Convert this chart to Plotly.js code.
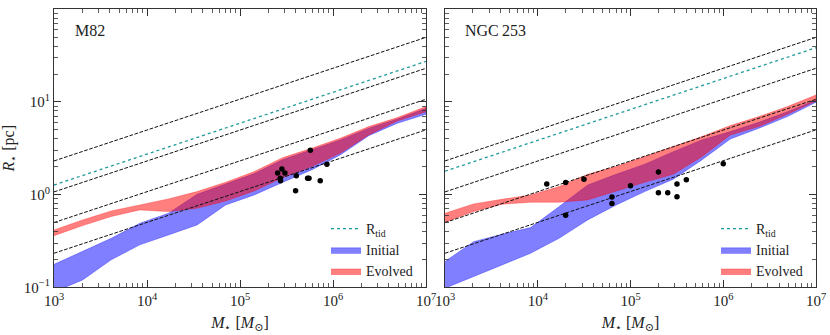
<!DOCTYPE html>
<html>
<head>
<meta charset="utf-8">
<script src="https://cdn.plot.ly/plotly-3.0.1.min.js"></script>
<style>html,body{margin:0;padding:0;background:#fff;}#chart{width:830px;height:335px;}</style>
</head>
<body>
<div id="chart"></div>
<script>
// ---- data ----
const massGrid = [1000, 2031, 4125, 8377, 17013, 34551, 70170, 142510, 289427, 587802, 1193777, 2424462, 4923883, 10000000];

// M82 panel
const m82InitialHi = [0.177, 0.243, 0.338, 0.491, 0.630, 1.009, 1.294, 1.686, 2.39, 3.03, 3.89, 5.20, 6.56, 8.54];
const m82InitialLo = [0.089, 0.120, 0.198, 0.287, 0.367, 0.471, 0.774, 0.993, 1.359, 1.847, 2.68, 4.33, 5.89, 7.36];
const m82EvolvedHi = [0.416, 0.533, 0.667, 0.774, 0.899, 1.078, 1.359, 1.773, 2.51, 3.16, 4.06, 5.42, 6.78, 8.91];
const m82EvolvedLo = [0.361, 0.463, 0.580, 0.684, 0.656, 0.713, 0.855, 1.096, 1.526, 2.01, 2.79, 4.41, 6.24, 7.86];
const m82ObsMass = [5.70e5, 8.6e5, 2.82e5, 2.54e5, 3.04e5, 4.03e5, 2.71e5, 2.73e5, 5.33e5, 5.52e5, 7.29e5, 3.96e5];
const m82ObsR    = [3.01, 2.13, 1.89, 1.71, 1.71, 1.60, 1.50, 1.41, 1.50, 1.50, 1.41, 1.10];
const m82Tidal   = [1.27, 27.4];

// NGC 253 panel
const ngcInitialHi = [0.190, 0.311, 0.374, 0.441, 0.743, 1.273, 1.659, 2.13, 2.91, 3.89, 4.79, 6.04, 7.86, 10.5];
const ngcInitialLo = [0.0977, 0.131, 0.175, 0.233, 0.338, 0.533, 0.774, 1.078, 1.465, 2.37, 3.99, 5.20, 6.95, 9.92];
const ngcEvolvedHi = [0.630, 0.794, 0.891, 0.993, 1.221, 1.659, 2.01, 2.57, 3.35, 4.23, 5.56, 6.95, 8.91, 11.9];
const ngcEvolvedLo = [0.504, 0.656, 0.787, 0.828, 0.828, 0.877, 1.096, 1.359, 1.659, 2.57, 4.41, 5.42, 7.36, 10.25];
const ngcObsMass = [1.25e4, 2.0e4, 3.15e4, 2.0e4, 6.31e4, 6.31e4, 1.0e5, 2.0e5, 2.0e5, 2.52e5, 3.17e5, 3.17e5, 4.0e5, 1.0e6];
const ngcObsR    = [1.30, 1.35, 1.47, 0.600, 0.944, 0.800, 1.25, 1.76, 1.05, 1.05, 1.30, 0.951, 1.45, 2.16];
const ngcTidal   = [1.79, 38.5];

// constant-density reference lines (R at M=1e3 and M=1e7)
const refMass = [1e3, 1e7];
const refLines = [[2.31, 49.8], [1.07, 23.1], [0.50, 10.7], [0.233, 5.0]];

const xTickVals = [1e3, 1e4, 1e5, 1e6, 1e7];
const xTickText = ['10<sup>3</sup>', '10<sup>4</sup>', '10<sup>5</sup>', '10<sup>6</sup>', '10<sup>7</sup>'];
const yTickVals = [0.1, 1, 10, 100];
const yTickText = ['10<sup>−1</sup>', '10<sup>0</sup>', '10<sup>1</sup>', '10<sup>2</sup>'];
const panelNames = ['M82', 'NGC\u2009253'];

// ---- build ----
function minorVals(d0, d1) {
  const v = [];
  for (let d = d0; d < d1; d++) for (let k = 2; k <= 9; k++) v.push(k * Math.pow(10, d));
  return v;
}
const BLUE = 'rgba(0,0,255,0.5)';
const RED = 'rgba(255,0,0,0.5)';
const TEAL = '#1f9a9a';
const FONT = 'Liberation Serif, DejaVu Serif, serif';

function band(lo, hi, color, name, xa, ya, lg, rank) {
  return {
    x: massGrid.concat(massGrid.slice().reverse()),
    y: hi.concat(lo.slice().reverse()),
    fill: 'toself', fillcolor: color, mode: 'lines',
    line: {width: 0.6, color: color},
    name: name, xaxis: xa, yaxis: ya, legend: lg, legendrank: rank,
    showlegend: true, hoverinfo: 'skip'
  };
}
function panel(xa, ya, lg, iHi, iLo, eHi, eLo, tidal, obsM, obsR) {
  const tr = [];
  tr.push(band(iLo, iHi, BLUE, 'Initial', xa, ya, lg, 2));
  tr.push(band(eLo, eHi, RED, 'Evolved', xa, ya, lg, 3));
  refLines.forEach(r => tr.push({
    x: refMass, y: r, mode: 'lines', xaxis: xa, yaxis: ya, showlegend: false,
    line: {color: '#111', width: 1, dash: '3.7px,1.6px'}, hoverinfo: 'skip'
  }));
  tr.push({
    x: refMass, y: tidal, mode: 'lines', xaxis: xa, yaxis: ya, legend: lg, legendrank: 1,
    name: 'R<sub>tid</sub>', line: {color: TEAL, width: 1.3, dash: 'dot'}
  });
  tr.push({
    x: obsM, y: obsR, mode: 'markers', xaxis: xa, yaxis: ya, showlegend: false,
    marker: {color: '#000', size: 5.5}
  });
  return tr;
}
const data = panel('x', 'y', 'legend', m82InitialHi, m82InitialLo, m82EvolvedHi, m82EvolvedLo, m82Tidal, m82ObsMass, m82ObsR)
  .concat(panel('x2', 'y2', 'legend2', ngcInitialHi, ngcInitialLo, ngcEvolvedHi, ngcEvolvedLo, ngcTidal, ngcObsMass, ngcObsR));

const W = 830, H = 335;
const AX = '#333';
function xAxis(dom, anchor) {
  return {
    type: 'log', range: [3, 7], domain: dom, anchor: anchor,
    showline: true, linecolor: AX, linewidth: 1, mirror: 'allticks',
    ticks: 'inside', ticklen: 7, tickwidth: 1, tickcolor: AX,
    tickmode: 'array', tickvals: xTickVals, ticktext: xTickText,
    tickfont: {family: FONT, size: 15, color: '#222'},
    minor: {tickmode: 'array', tickvals: minorVals(3, 7), ticks: 'inside', ticklen: 4, tickwidth: 0.8, tickcolor: AX, showgrid: false},
    showgrid: false, zeroline: false,
    title: {text: '<i>M</i><sub>⋆</sub> [<i>M</i><sub>⊙</sub>]', font: {family: FONT, size: 16, color: '#222'}, standoff: 8}
  };
}
function yAxis(anchor, labels) {
  return {
    type: 'log', range: [-1, 2], domain: [1 - 287.3 / H, 1 - 9.3 / H], anchor: anchor,
    showline: true, linecolor: AX, linewidth: 1, mirror: 'allticks',
    ticks: 'inside', ticklen: 7, tickwidth: 1, tickcolor: AX,
    tickmode: 'array', tickvals: yTickVals, ticktext: yTickText, showticklabels: labels,
    tickfont: {family: FONT, size: 15, color: '#222'},
    minor: {tickmode: 'array', tickvals: minorVals(-1, 2), ticks: 'inside', ticklen: 4, tickwidth: 0.8, tickcolor: AX, showgrid: false},
    showgrid: false, zeroline: false,
    title: labels ? {text: '<i>R</i><sub>⋆</sub> [pc]', font: {family: FONT, size: 16, color: '#222'}, standoff: 6} : {text: ''}
  };
}
function legendBox(xpx) {
  return {
    x: xpx / W, y: 1 - 213 / H, xanchor: 'left', yanchor: 'top',
    bgcolor: 'rgba(255,255,255,0)', borderwidth: 0,
    font: {family: FONT, size: 14, color: '#222'}, itemwidth: 30, tracegroupgap: 0
  };
}
const layout = {
  width: W, height: H, margin: {l: 0, r: 0, t: 0, b: 0},
  paper_bgcolor: '#fff', plot_bgcolor: '#fff',
  font: {family: FONT, size: 15, color: '#222'},
  showlegend: true,
  xaxis: xAxis([54 / W, 426 / W], 'y'),
  yaxis: yAxis('x', true),
  xaxis2: xAxis([445 / W, 816 / W], 'y2'),
  yaxis2: yAxis('x2', false),
  legend: legendBox(326),
  legend2: legendBox(716),
  annotations: [
    {text: panelNames[0], xref: 'paper', yref: 'paper', x: 73 / W, y: 1 - 30 / H, xanchor: 'left', yanchor: 'middle', showarrow: false, font: {family: FONT, size: 16, color: '#222'}},
    {text: panelNames[1], xref: 'paper', yref: 'paper', x: 463 / W, y: 1 - 30 / H, xanchor: 'left', yanchor: 'middle', showarrow: false, font: {family: FONT, size: 16, color: '#222'}}
  ]
};
Plotly.newPlot('chart', data, layout, {staticPlot: true, displayModeBar: false});
</script>
</body>
</html>
